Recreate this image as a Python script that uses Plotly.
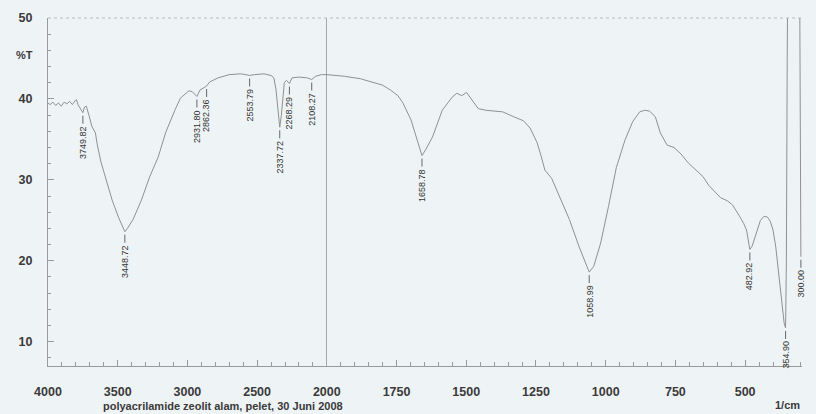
import plotly.graph_objects as go

# ---------------- data (wavenumber in 1/cm, transmittance %T) ----------------
wn_hi = [4000, 3985, 3965, 3945, 3925, 3905, 3885, 3865, 3845, 3825, 3805, 3796, 3785,
         3770, 3749.82, 3738, 3725, 3705, 3685, 3660, 3645, 3620, 3585, 3540, 3495, 3460,
         3448.72, 3430, 3390, 3330, 3270, 3210, 3155, 3090, 3050, 2990, 2965, 2931.80,
         2910, 2880, 2862.36, 2840, 2780, 2700, 2620, 2580, 2553.79, 2520, 2450, 2400,
         2380, 2365, 2352, 2337.72, 2326, 2316, 2305, 2290, 2268.29, 2250, 2200, 2140,
         2108.27, 2080, 2040, 2000]
t_hi = [39.5, 39.3, 39.6, 39.2, 39.5, 39.1, 39.6, 39.4, 39.7, 39.3, 39.8, 39.9, 39.3,
        38.9, 38.3, 39.0, 39.1, 37.9, 36.6, 35.8, 34.2, 32.2, 30.0, 27.5, 25.4, 24.0,
        23.6, 24.0, 25.1, 27.5, 30.4, 32.8, 35.9, 38.6, 40.1, 41.0, 40.9, 40.3,
        41.1, 41.4, 41.6, 42.1, 42.6, 43.0, 43.1, 43.0, 42.9, 43.0, 43.1, 42.9,
        42.6, 41.2, 38.8, 36.5, 38.0, 40.2, 42.0, 42.3, 41.9, 42.6, 42.7, 42.6,
        42.4, 42.8, 43.0, 43.0]

wn_lo = [2000, 1960, 1937, 1880, 1832, 1800, 1772, 1745, 1727, 1698, 1674, 1658.78, 1646,
         1621, 1586, 1551, 1534, 1516, 1499, 1481, 1457, 1430, 1400, 1369, 1330, 1295,
         1271, 1246, 1232, 1218, 1194, 1166, 1130, 1095, 1071, 1058.99, 1043, 1018, 990,
         962, 931, 903, 878, 860, 843, 822, 804, 780, 755, 730, 704, 669, 651, 630, 609,
         588, 563, 545, 520, 505, 495, 488, 482.92, 475, 465, 455, 445, 432, 420, 410,
         400, 390, 380, 372, 365, 360, 354.90, 352, 349, 346, 305, 302, 300]
t_lo = [43.0, 42.9, 42.8, 42.5, 42.0, 41.7, 41.1, 40.4, 39.5, 37.4, 34.7, 33.0, 33.7,
        35.3, 38.6, 40.2, 40.7, 40.4, 40.8, 39.9, 38.8, 38.6, 38.5, 38.4, 37.8, 37.3,
        36.4, 34.6, 33.0, 31.2, 30.2, 27.9, 25.1, 21.7, 19.5, 18.6, 19.3, 22.2, 26.7,
        31.5, 34.9, 37.2, 38.4, 38.6, 38.5, 37.8, 35.8, 34.3, 34.0, 33.2, 32.1, 30.9,
        30.4, 29.3, 28.5, 27.8, 27.4, 26.9, 25.5, 24.6, 23.8, 22.6, 21.4, 21.8, 22.8,
        24.0, 25.0, 25.5, 25.4, 24.9, 23.8, 21.7, 18.5, 15.5, 13.5, 12.3, 11.7, 20.0,
        45.0, 60.0, 60.0, 40.0, 20.5]

peak_wn = [3749.82, 3448.72, 2931.80, 2862.36, 2553.79, 2337.72, 2268.29, 2108.27,
           1658.78, 1058.99, 482.92, 354.90, 300]
peak_txt = ["3749.82", "3448.72", "2931.80", "2862.36", "2553.79", "2337.72", "2268.29",
            "2108.27", "1658.78", "1058.99", "482.92", "354.90", "300.00"]

x_ticks_hi = [4000, 3500, 3000, 2500, 2000]
x_ticks_lo = [1750, 1500, 1250, 1000, 750, 500]
y_ticks = [10, 20, 30, 40, 50]

caption = "polyacrilamide zeolit alam, pelet, 30 Juni 2008"

# ---------------- style ----------------
BG = "#eef3f6"
LINE = "#909090"
AX = "#9a9a9a"
TXT = "#3a3a3a"
FONT = "Liberation Sans, Arial, sans-serif"

W, H = 816, 414
ML, MR, MT, MB = 48, 0, 18, 48
split = 284 / 768.0

fig = go.Figure()
fig.add_trace(go.Scatter(x=wn_hi, y=t_hi, xaxis="x", yaxis="y", mode="lines",
                         line=dict(color=LINE, width=1), hoverinfo="skip"))
fig.add_trace(go.Scatter(x=wn_lo, y=t_lo, xaxis="x2", yaxis="y", mode="lines",
                         line=dict(color=LINE, width=1), hoverinfo="skip"))

lookup = dict(zip(wn_hi, t_hi))
lookup.update(dict(zip(wn_lo, t_lo)))

annotations = []
shapes = []
for w, txt in zip(peak_wn, peak_txt):
    xr = "x" if w >= 2000 else "x2"
    t = lookup[w]
    shapes.append(dict(type="line", xref=xr, yref="y", x0=w, x1=w,
                       ysizemode="pixel", yanchor=t, y0=-3, y1=-11,
                       line=dict(color="#666", width=1)))
    annotations.append(dict(x=w, y=t, xref=xr, yref="y", text=txt, showarrow=False,
                            textangle=-90, yanchor="top", xanchor="center", yshift=-11,
                            font=dict(size=9, color="#333", family=FONT)))

# vertical divider at 2000 and dotted top frame
shapes.append(dict(type="line", xref="x", yref="paper", x0=2000, x1=2000, y0=0, y1=1,
                   line=dict(color="#6a6a6a", width=1)))
shapes.append(dict(type="line", xref="paper", yref="paper", x0=0, x1=1, y0=1, y1=1,
                   line=dict(color="#b8bcc0", width=1, dash="dot")))

annotations += [
    dict(text=caption, xref="paper", yref="paper", x=(226 - ML) / 768, y=-(406 - 366) / 348,
         showarrow=False, xanchor="center", yanchor="middle",
         font=dict(size=11, color=TXT, family=FONT, weight="bold")),
    dict(text="%T", xref="paper", yref="paper", x=(24 - ML) / 768, y=(366 - 55) / 348,
         showarrow=False, xanchor="center", yanchor="middle",
         font=dict(size=11, color=TXT, family=FONT, weight="bold")),
    dict(text="1/cm", xref="paper", yref="paper", x=(801 - ML) / 768, y=-(405 - 366) / 348,
         showarrow=False, xanchor="center", yanchor="middle",
         font=dict(size=11, color=TXT, family=FONT, weight="bold")),
]

tickfont = dict(size=12.5, color=TXT, family=FONT, weight="bold")

fig.update_layout(
    width=W, height=H,
    margin=dict(l=ML, r=MR, t=MT, b=MB),
    paper_bgcolor=BG, plot_bgcolor=BG,
    showlegend=False,
    xaxis=dict(domain=[0, split], range=[4000, 2000], tickvals=x_ticks_hi,
               ticks="inside", ticklen=6, tickcolor=AX, showline=True, linecolor=AX,
               showgrid=False, zeroline=False, tickfont=tickfont, ticklabelstandoff=14,
               minor=dict(dtick=100, tick0=0, ticks="inside", ticklen=4, tickcolor=AX,
                          showgrid=False),
               anchor="y", fixedrange=True),
    xaxis2=dict(domain=[split, 1], range=[2000, 296], tickvals=x_ticks_lo,
                ticks="inside", ticklen=6, tickcolor=AX, showline=True, linecolor=AX,
                showgrid=False, zeroline=False, tickfont=tickfont, ticklabelstandoff=14,
                minor=dict(dtick=50, tick0=0, ticks="inside", ticklen=4, tickcolor=AX,
                           showgrid=False),
                anchor="y", fixedrange=True),
    yaxis=dict(range=[7, 50], tickvals=y_ticks, ticks="inside", ticklen=6, tickcolor=AX,
               showline=True, linecolor=AX, showgrid=False, zeroline=False,
               tickfont=tickfont, ticklabelstandoff=12,
               minor=dict(dtick=2, tick0=0, ticks="inside", ticklen=3, tickcolor=AX,
                          showgrid=False),
               fixedrange=True),
    shapes=shapes,
    annotations=annotations,
)

post = (
    "document.documentElement.style.overflow='hidden';"
    "document.documentElement.style.margin='0';"
    "document.body.style.margin='0';"
    "document.body.style.overflow='hidden';"
    "document.body.style.background='" + BG + "';"
    "var d=document.getElementsByClassName('plotly-graph-div')[0];"
    "d.style.position='fixed';d.style.left='0px';d.style.top='0px';"
)

fig.write_html("out.html", config={"displayModeBar": False}, post_script=post)
